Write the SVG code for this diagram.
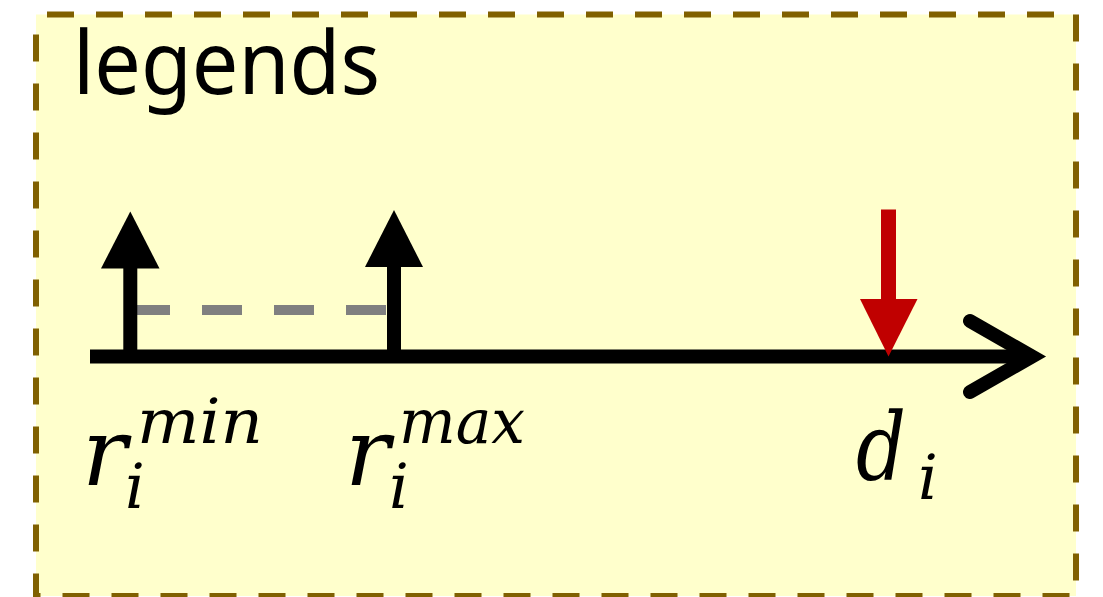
<svg xmlns="http://www.w3.org/2000/svg" width="1103" height="597" viewBox="0 0 1103 597">
<style>
.m{font-family:"DejaVu Serif","Liberation Serif",serif;font-style:italic;fill:#000;font-size:94px}
.sm{font-size:62px}
</style>
<rect width="1103" height="597" fill="#fff"/>
<g id="legend-box">
<rect x="36" y="14.5" width="1040" height="581.5" fill="#ffffcc" stroke="#806000" stroke-width="6" stroke-dasharray="27 22" stroke-dashoffset="-11"/>
<text x="73" y="94" font-family="'Noto Sans','Open Sans',sans-serif" font-size="88" textLength="307" lengthAdjust="spacingAndGlyphs">legends</text>
</g>
<g id="connectors">
<line x1="90" y1="356.5" x2="1030" y2="356.5" stroke="#000" stroke-width="14"/>
<polyline points="970,321 1032,356.5 970,392" fill="none" stroke="#000" stroke-width="14" stroke-linecap="round" stroke-linejoin="miter"/>
<line x1="130" y1="310" x2="388" y2="310" stroke="#808080" stroke-width="10" stroke-dasharray="40 32"/>
<line x1="130.3" y1="357" x2="130.3" y2="266" stroke="#000" stroke-width="14"/>
<polygon points="130.3,211.5 101,268.5 159.5,268.5" fill="#000"/>
<line x1="394" y1="357" x2="394" y2="264" stroke="#000" stroke-width="14"/>
<polygon points="394,210 365,267 423,267" fill="#000"/>
<line x1="888.5" y1="209.5" x2="888.5" y2="302" stroke="#c00000" stroke-width="15"/>
<polygon points="860,299 917.5,299 888.5,356.5" fill="#c00000"/>
</g>
<g id="label-rmin">
<text class="m"><tspan x="82" y="485">r</tspan><tspan class="sm" x="125" y="508">i</tspan><tspan class="sm" x="137" y="443" textLength="126" lengthAdjust="spacingAndGlyphs">min</tspan></text>
</g>
<g id="label-rmax">
<text class="m"><tspan x="345" y="485">r</tspan><tspan class="sm" x="389" y="508">i</tspan><tspan class="sm" x="399" y="443" textLength="126" lengthAdjust="spacingAndGlyphs">max</tspan></text>
</g>
<g id="label-d">
<text class="m"><tspan x="856" y="480" textLength="50" lengthAdjust="spacingAndGlyphs">d</tspan><tspan class="sm" x="918" y="499">i</tspan></text>
</g>
</svg>
